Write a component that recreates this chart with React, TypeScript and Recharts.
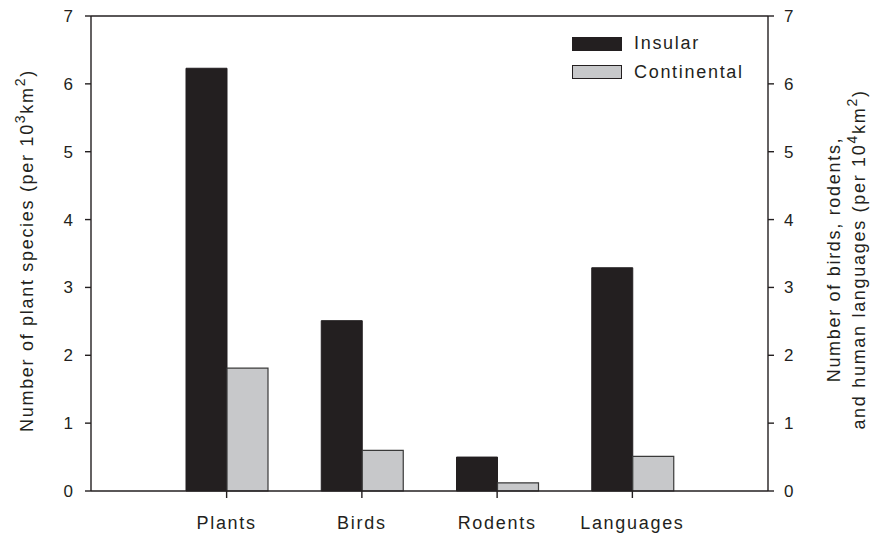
import { BarChart, Bar, XAxis, YAxis, ReferenceLine, Label } from 'recharts'

const categories = ['Plants', 'Birds', 'Rodents', 'Languages']
const insular = [6.23, 2.51, 0.5, 3.29]
const continental = [1.81, 0.6, 0.12, 0.51]
const yTicks = [0, 1, 2, 3, 4, 5, 6, 7]
const seriesNames = ['Insular', 'Continental']

const data = categories.map((name, i) => ({
  name,
  insular: insular[i],
  continental: continental[i],
}))

const INK = '#231f20'
const GREY = '#c7c8ca'
const FONT = '"Liberation Sans", Arial, Helvetica, sans-serif'
const SPACING = 1.7
const SUP_SHIFT = 8
const SUP_SIZE = 14

const axisStroke = { stroke: INK, strokeWidth: 1.4 }

// "(per 10ⁿkm²)" with raised exponents
function UnitTail({ exp }: { exp: string }) {
  return (
    <>
      <tspan dy={-SUP_SHIFT} fontSize={SUP_SIZE}>{exp}</tspan>
      <tspan dy={SUP_SHIFT}>km</tspan>
      <tspan dy={-SUP_SHIFT} fontSize={SUP_SIZE}>2</tspan>
      <tspan dy={SUP_SHIFT}>)</tspan>
    </>
  )
}

function LeftTitle(props: any) {
  const vb = props.viewBox || { x: 31, y: 16, width: 60, height: 475 }
  const x = vb.x + 2
  const y = vb.y + vb.height / 2 - 3
  return (
    <text
      x={x}
      y={y}
      transform={`rotate(-90, ${x}, ${y})`}
      textAnchor="middle"
      fill={INK}
      fontSize={18}
      fontFamily={FONT}
      letterSpacing={SPACING}
    >
      Number of plant species (per 10<UnitTail exp="3" />
    </text>
  )
}

function RightTitle(props: any) {
  const vb = props.viewBox || { x: 768, y: 16, width: 60, height: 475 }
  const y = vb.y + vb.height / 2 + 6
  const x1 = vb.x + 72
  const x2 = vb.x + 97
  const common = {
    textAnchor: 'middle' as const,
    fill: INK,
    fontSize: 18,
    fontFamily: FONT,
    letterSpacing: SPACING,
  }
  return (
    <g>
      <text x={x1} y={y} transform={`rotate(-90, ${x1}, ${y})`} {...common}>
        Number of birds, rodents,
      </text>
      <text x={x2} y={y} transform={`rotate(-90, ${x2}, ${y})`} {...common}>
        and human languages (per 10<UnitTail exp="4" />
      </text>
    </g>
  )
}

function LegendBlock() {
  const fills = [INK, GREY]
  return (
    <div
      style={{
        position: 'absolute',
        left: 572,
        top: 29.5,
        fontFamily: FONT,
        fontSize: 18,
        letterSpacing: SPACING,
        color: INK,
      }}
    >
      {seriesNames.map((label, i) => (
        <div key={label} style={{ display: 'flex', alignItems: 'center', height: 28.5 }}>
          <span
            style={{
              display: 'inline-block',
              width: 48,
              height: 12,
              background: fills[i],
              border: `1px solid ${INK}`,
              marginRight: 12,
            }}
          />
          <span>{label}</span>
        </div>
      ))}
    </div>
  )
}

export default function App() {
  return (
    <div style={{ position: 'absolute', left: 0, top: 0, width: 871, height: 534, background: '#fff' }}>
      <BarChart
        width={871}
        height={534}
        data={data}
        margin={{ top: 16, right: 43, bottom: 0, left: 31 }}
        barGap={0}
      >
        <XAxis
          dataKey="name"
          height={43}
          padding={{ left: 68, right: 68 }}
          axisLine={axisStroke}
          tickLine={axisStroke}
          tickSize={7}
          tickMargin={18}
          tick={{ fill: INK, fontSize: 18, fontFamily: FONT, letterSpacing: SPACING }}
        />
        <YAxis
          yAxisId="left"
          width={60}
          domain={[0, 7]}
          ticks={yTicks}
          interval={0}
          axisLine={axisStroke}
          tickLine={axisStroke}
          tickSize={6}
          tickMargin={12}
          tick={{ fill: INK, fontSize: 17, fontFamily: FONT }}
        >
          <Label content={<LeftTitle />} />
        </YAxis>
        <YAxis
          yAxisId="right"
          orientation="right"
          width={60}
          domain={[0, 7]}
          allowDataOverflow
          ticks={yTicks}
          interval={0}
          axisLine={axisStroke}
          tickLine={axisStroke}
          tickSize={6}
          tickMargin={10}
          tick={{ fill: INK, fontSize: 17, fontFamily: FONT }}
        >
          <Label content={<RightTitle />} />
        </YAxis>
        <ReferenceLine yAxisId="left" y={7} stroke={INK} strokeWidth={1.4} />
        <Bar
          yAxisId="left"
          dataKey="insular"
          name={seriesNames[0]}
          fill={INK}
          stroke={INK}
          strokeWidth={1}
          barSize={41}
          isAnimationActive={false}
        />
        <Bar
          yAxisId="left"
          dataKey="continental"
          name={seriesNames[1]}
          fill={GREY}
          stroke="#3a3a3a"
          strokeWidth={1.2}
          barSize={41}
          isAnimationActive={false}
        />
      </BarChart>
      <LegendBlock />
    </div>
  )
}
